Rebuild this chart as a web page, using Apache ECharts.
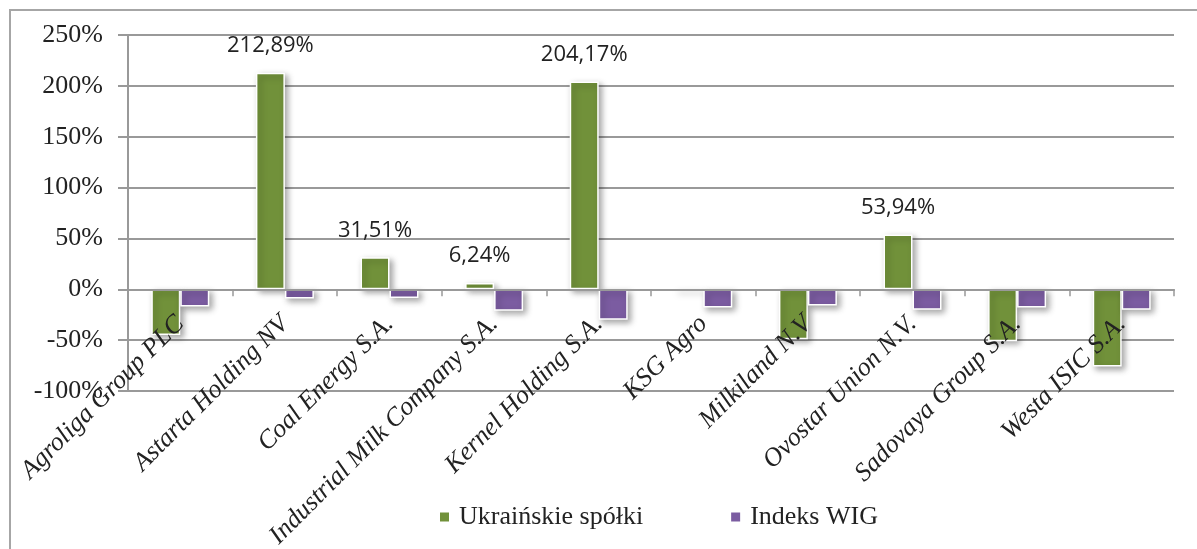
<!DOCTYPE html>
<html>
<head>
<meta charset="utf-8">
<script src="https://cdn.jsdelivr.net/npm/echarts@6/dist/echarts.min.js"></script>
<style>
html,body{margin:0;padding:0;background:#fff;}
#chart{width:1197px;height:549px;}
</style>
</head>
<body>
<div id="chart"></div>
<script>
var categories = ['Agroliga Group PLC','Astarta Holding NV','Coal Energy S.A.','Industrial Milk Company S.A.','Kernel Holding S.A.','KSG Agro','Milkiland N.V','Ovostar Union N.V.','Sadovaya Group S.A.','Westa ISIC S.A.'];
var ukrainskie = [-45, 212.89, 31.51, 6.24, 204.17, -0.8, -49, 53.94, -51, -76];
var wig = [-17, -9, -8.5, -21, -30, -18, -16, -20, -18, -20];
var seriesNames = ['Ukraińskie spółki', 'Indeks WIG'];
var yTicks = {min: -100, max: 250, step: 50};

var chart = echarts.init(document.getElementById('chart'));
var serif = 'Liberation Serif';
var barStyle = function(color){
  return {
    color: color,
    borderColor: '#ffffff',
    borderWidth: 1.5,
    shadowColor: 'rgba(0,0,0,0.35)',
    shadowBlur: 6,
    shadowOffsetX: 3,
    shadowOffsetY: 3
  };
};
chart.setOption({
  animation: false,
  backgroundColor: '#ffffff',
  textStyle: {fontFamily: serif},
  graphic: [{
    type: 'rect',
    shape: {x: 10, y: 10, width: 1300, height: 700},
    style: {fill: 'none', stroke: '#a6a6a6', lineWidth: 2},
    silent: true
  }],
  grid: {left: 128, right: 23, top: 35, bottom: 158, containLabel: false, outerBoundsMode: 'none'},
  legend: {
    data: seriesNames,
    top: 499,
    left: 433,
    itemWidth: 11,
    itemHeight: 11,
    itemGap: 86,
    icon: 'rect',
    textStyle: {fontFamily: serif, fontSize: 26, fontWeight: 'normal', fontStyle: 'normal', color: '#222', padding: [0,0,0,4]}
  },
  xAxis: {
    type: 'category',
    data: categories,
    z: 10,
    axisLine: {onZero: true, lineStyle: {color: '#999999', width: 2}},
    axisTick: {show: true, length: 7, inside: false, lineStyle: {color: '#999999', width: 1.5}},
    axisLabel: {
      interval: 0, rotate: 45, margin: -71, hideOverlap: false,
      fontFamily: serif, fontStyle: 'italic', fontSize: 26, color: '#222'
    },
    splitLine: {show: false}
  },
  yAxis: [{
    type: 'value',
    min: yTicks.min, max: yTicks.max, interval: yTicks.step,
    axisLine: {show: true, lineStyle: {color: '#999999', width: 2}},
    axisTick: {show: true, length: 10, lineStyle: {color: '#999999', width: 2}},
    axisLabel: {
      show: true,
      margin: 25,
      fontFamily: serif, fontStyle: 'normal', fontWeight: 'normal', fontSize: 26, color: '#222',
      formatter: '{value}%'
    },
    splitLine: {show: true, lineStyle: {color: '#999999', width: 2}}
  }],
  series: [{
    name: seriesNames[0],
    type: 'bar',
    data: ukrainskie,
    barWidth: 29,
    barGap: '0%',
    itemStyle: barStyle('#71913a'),
    label: {
      show: true, position: 'top', distance: 16,
      fontFamily: 'Open Sans', fontSize: 22, color: '#222',
      formatter: function(p){ return p.value > 0 ? p.value.toFixed(2).replace('.', ',') + '%' : ''; }
    }
  },{
    name: seriesNames[1],
    type: 'bar',
    data: wig,
    barWidth: 29,
    itemStyle: barStyle('#7b5ca1')
  }]
});
</script>
</body>
</html>
